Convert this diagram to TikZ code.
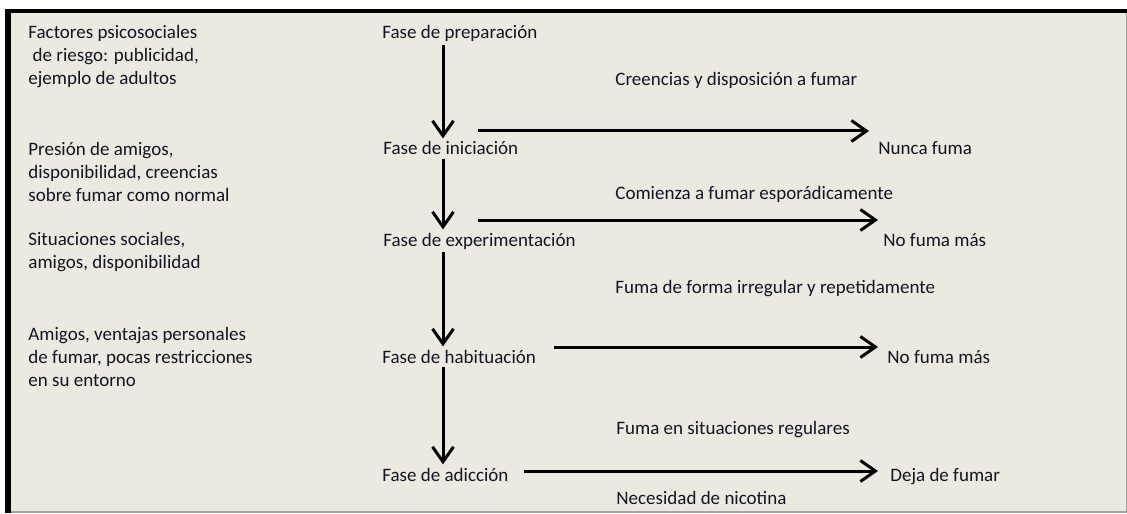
\documentclass[tikz,border=0pt]{standalone}
\usepackage{fontspec}
\setmainfont{Carlito}
\usetikzlibrary{arrows.meta}
\definecolor{panel}{RGB}{236,233,224}
\definecolor{ink}{RGB}{20,20,35}
\definecolor{rim}{RGB}{165,165,160}

\begin{document}
\begin{tikzpicture}[x=0.5pt,y=-0.5pt,
  every node/.style={inner sep=1.5pt, text=ink, font=\fontsize{9.5}{11.5}\selectfont},
  factor/.style={anchor=base west, align=left},
  phase/.style={anchor=base west},
  note/.style={anchor=base west},
  outcome/.style={anchor=base west},
  flow/.style={line width=1.5pt, draw=black, -{Straight Barb[length=7.5pt,width=10.5pt]}}]

% page and framed panel
\useasboundingbox (0,0) rectangle (1127,513);
\fill[white] (0,0) rectangle (1127,513);
\fill[panel] (11,13) rectangle (1126,511);
\fill[black] (5,9) rectangle (11,513);
\fill[black] (5,9) rectangle (1127,13);
\draw[rim, line width=1pt] (11,511.5) -- (1127,511.5);
\draw[rim, line width=1pt] (1126.5,13) -- (1126.5,511);

% psychosocial factors (left column); the base anchor sits on the last line
\node[factor] (f1) at (25,85) {Factores psicosociales\\~de riesgo: publicidad,\\ejemplo de adultos};
\node[factor] (f2) at (25,201) {Presión de amigos,\\disponibilidad, creencias\\sobre fumar como normal};
\node[factor] (f3) at (25,268) {Situaciones sociales,\\amigos, disponibilidad};
\node[factor] (f4) at (25,386) {Amigos, ventajas personales\\de fumar, pocas restricciones\\en su entorno};

% phases
\node[phase] (prep) at (379,39) {Fase de preparación};
\node[phase] (inic) at (380,155) {Fase de iniciación};
\node[phase] (expe) at (380,246) {Fase de experimentación};
\node[phase] (habi) at (379,363) {Fase de habituación};
\node[phase] (adic) at (379,481) {Fase de adicción};

% transitions
\node[note] (n1) at (612,86) {Creencias y disposición a fumar};
\node[note] (n2) at (612,199) {Comienza a fumar esporádicamente};
\node[note] (n3) at (612,293) {Fuma de forma irregular y repetidamente};
\node[note] (n4) at (613,434) {Fuma en situaciones regulares};
\node[note] (n5) at (613,504) {Necesidad de nicotina};

% outcomes
\node[outcome] (o1) at (875,155) {Nunca fuma};
\node[outcome] (o2) at (880,246) {No fuma más};
\node[outcome] (o3) at (884,363) {No fuma más};
\node[outcome] (o4) at (887,481) {Deja de fumar};

% vertical progression
\coordinate (spine) at (443,0);
\draw[flow] (prep.south -| spine) -- (inic.north -| spine);
\draw[flow] (inic.south -| spine) -- (expe.north -| spine);
\draw[flow] (expe.south -| spine) -- (habi.north -| spine);
\draw[flow] (habi.south -| spine) -- (adic.north -| spine);

% exits
\coordinate (h1) at (478,131);
\coordinate (h2) at (478,220);
\coordinate (h3) at (554,347);
\coordinate (h4) at (524,471);
\draw[flow, shorten >=3pt] (h1) -- (h1 -| o1.west);
\draw[flow, shorten >=1pt] (h2) -- (h2 -| o2.west);
\draw[flow, shorten >=3pt] (h3) -- (h3 -| o3.west);
\draw[flow, shorten >=4.5pt] (h4) -- (h4 -| o4.west);
\end{tikzpicture}
\end{document}
